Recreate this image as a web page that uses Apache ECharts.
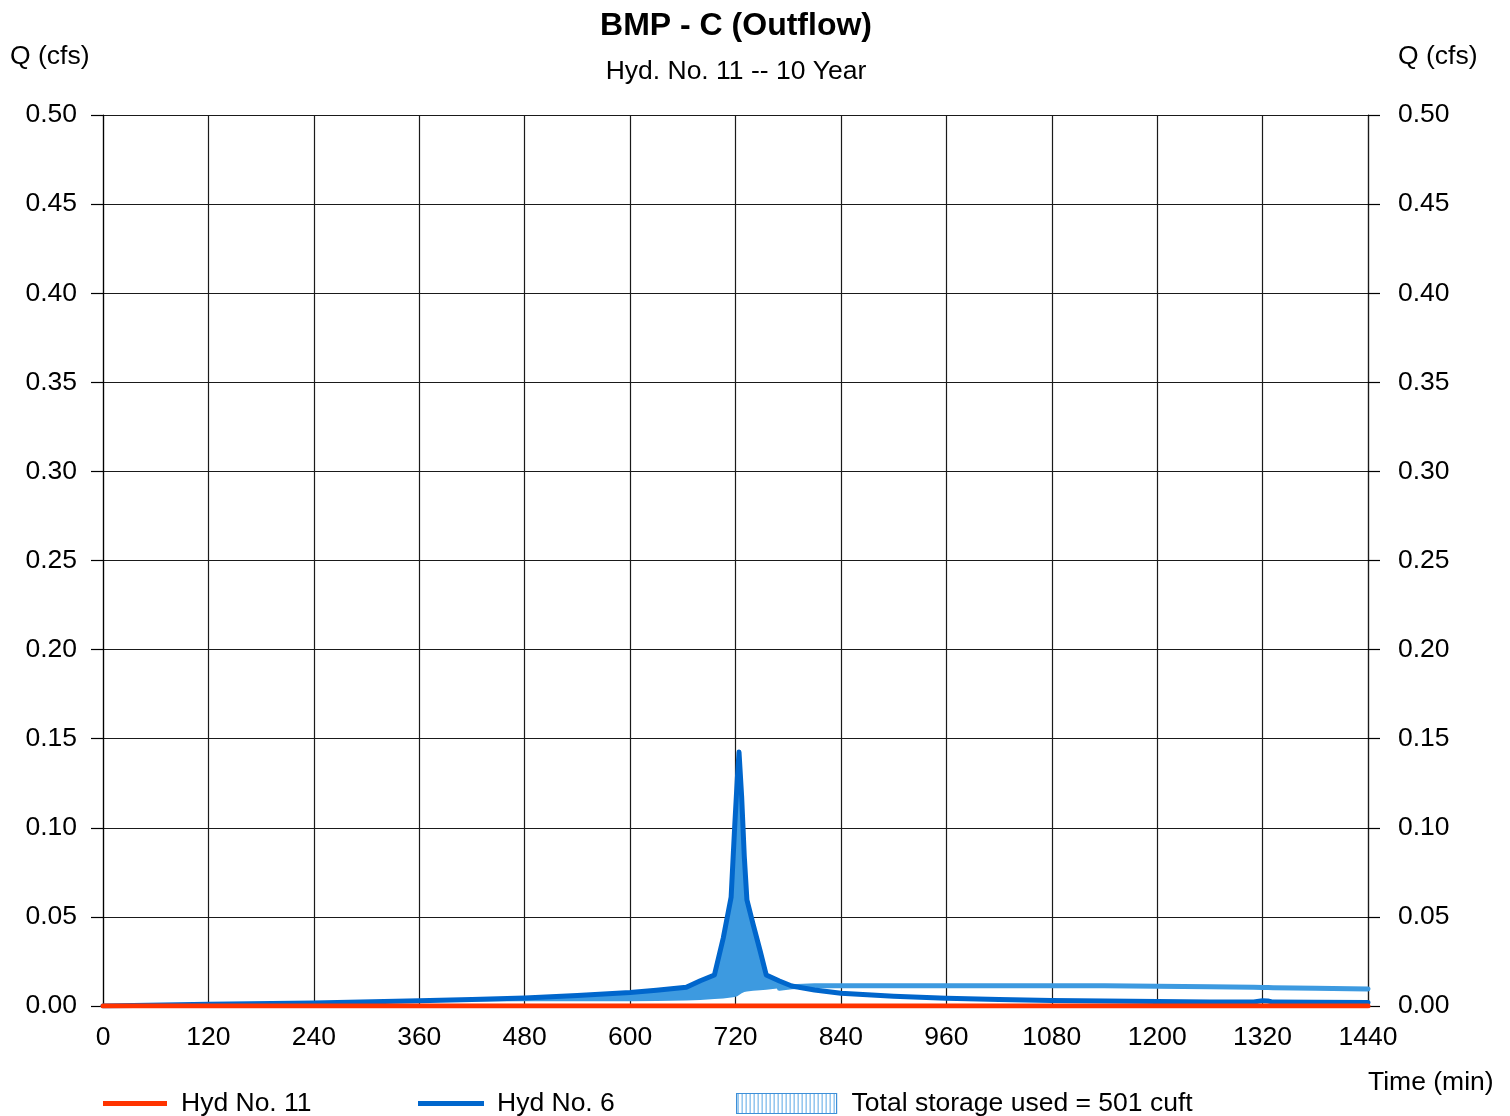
<!DOCTYPE html>
<html>
<head>
<meta charset="utf-8">
<script src="https://cdn.jsdelivr.net/npm/echarts@6/dist/echarts.min.js"></script>
<style>
html,body{margin:0;padding:0;background:#fff;}
#chart{width:1510px;height:1116px;}
</style>
</head>
<body>
<div id="chart"></div>
<script>
// ---- Data ----
var titleText = 'BMP - C (Outflow)';
var subtitleText = 'Hyd. No. 11 -- 10 Year';
var yTicks = [0, 0.05, 0.10, 0.15, 0.20, 0.25, 0.30, 0.35, 0.40, 0.45, 0.50];
var xTicks = [0, 120, 240, 360, 480, 600, 720, 840, 960, 1080, 1200, 1320, 1440];

// Hyd No. 6 (inflow)
var times = [0,120,240,360,420,480,540,600,630,664,680,696,706,715,719,722,724,727,730,733,740,748,755,770,784,810,840,900,960,1020,1080,1140,1200,1260,1310,1320,1326,1332,1380,1440];
var inflow = [0,0.0010,0.0017,0.0029,0.0036,0.0045,0.0059,0.0076,0.0089,0.0105,0.0142,0.0174,0.0380,0.0610,0.1000,0.1270,0.1425,0.1175,0.0840,0.0595,0.0460,0.0310,0.0174,0.0140,0.0112,0.0090,0.0072,0.0055,0.0044,0.0036,0.0031,0.0028,0.0025,0.0023,0.0022,0.0030,0.0028,0.0022,0.0021,0.0019];
// lower edge of the storage shading / storage line
var storageBase = [0,0.0010,0.0017,0.0024,0.0025,0.0026,0.0026,0.0026,0.0028,0.0031,0.0034,0.0039,0.0042,0.0047,0.0050,0.0055,0.0062,0.0071,0.0078,0.0081,0.0085,0.0088,0.0091,0.0100,0.0108,0.0113,0.0114,0.0114,0.0114,0.0114,0.0114,0.0113,0.0111,0.0108,0.0105,0.0104,0.0104,0.0103,0.0100,0.0095];
var storageLineFrom = 770;

// Hyd No. 11 (outflow)
var outTimes = [0, 720, 1440];
var outflow = [0, 0, 0];

var legendNames = ['Hyd No. 11', 'Hyd No. 6', 'Total storage used = 501 cuft'];

// ---- Build series data ----
var inflowData = times.map(function (t, i) { return [t, inflow[i]]; });
var storageLineData = times.map(function (t, i) { return [t, t >= storageLineFrom ? storageBase[i] : null]; });
var outData = outTimes.map(function (t, i) { return [t, outflow[i]]; });

var RED = '#ff3300', BLUE = '#0066cc', LBLUE = '#3d9ae0';
var FONT = '"Liberation Sans", Arial, Helvetica, sans-serif';
var FS = 26.5;

// hatch pattern for storage legend icon
var pc = document.createElement('canvas');
pc.width = 4; pc.height = 4;
var pctx = pc.getContext('2d');
pctx.fillStyle = '#ffffff'; pctx.fillRect(0, 0, 4, 4);
pctx.fillStyle = '#5aa8e6'; pctx.fillRect(1, 0, 1, 4);

var chart = echarts.init(document.getElementById('chart'), null, {renderer: 'canvas'});

var yAxisCommon = {
  type: 'value', min: 0, max: 0.5, interval: 0.05,
  axisLine: {show: true, lineStyle: {color: '#000', width: 1.2}},
  axisTick: {show: true, inside: false, length: 12, lineStyle: {color: '#000', width: 1.2}},
  axisLabel: {color: '#000', fontSize: FS, fontFamily: FONT, padding: [4, 0, 0, 0],
    formatter: function (v) { return v.toFixed(2); }}
};

// storage shading polygon: upper edge = inflow (or base where inflow is lower), lower edge = base
function renderStorage(params, api) {
  var pts = [];
  var i;
  for (i = 0; i < times.length; i++) {
    pts.push(api.coord([times[i], Math.max(inflow[i], storageBase[i])]));
  }
  for (i = times.length - 1; i >= 0; i--) {
    pts.push(api.coord([times[i], storageBase[i]]));
  }
  return {
    type: 'polygon',
    shape: {points: pts},
    style: {fill: LBLUE, stroke: null}
  };
}

var option = {
  backgroundColor: '#ffffff',
  animation: false,
  title: {
    text: titleText,
    subtext: subtitleText,
    left: 731, textAlign: 'center', top: 5,
    itemGap: 16,
    textStyle: {color: '#000', fontSize: 32, fontWeight: 'bold', fontFamily: FONT},
    subtextStyle: {color: '#000', fontSize: 26.5, fontFamily: FONT}
  },
  grid: {left: 103, right: 142, top: 115, bottom: 110, containLabel: false},
  xAxis: {
    type: 'value', min: 0, max: 1440, interval: 120,
    axisLine: {show: true, onZero: false, lineStyle: {color: '#000', width: 1.2}},
    axisTick: {show: false},
    axisLabel: {color: '#000', fontSize: FS, fontFamily: FONT, margin: 18,
      formatter: function (v) { return String(v); }},
    splitLine: {show: true, lineStyle: {color: '#1a1a1a', width: 1.2}}
  },
  yAxis: [
    Object.assign({}, yAxisCommon, {
      position: 'left',
      axisLabel: Object.assign({}, yAxisCommon.axisLabel, {margin: 26}),
      splitLine: {show: true, lineStyle: {color: '#1a1a1a', width: 1.2}}
    }),
    Object.assign({}, yAxisCommon, {
      position: 'right',
      axisLine: {show: true, lineStyle: {color: '#1a1a1a', width: 1.2}},
      axisLabel: Object.assign({}, yAxisCommon.axisLabel, {margin: 30}),
      splitLine: {show: false}
    })
  ],
  legend: [
    {
      data: [{name: legendNames[0], icon: 'rect'}],
      left: 103, top: 1090, padding: 0,
      itemWidth: 64, itemHeight: 5, selectedMode: false,
      textStyle: {color: '#000', fontSize: FS, fontFamily: FONT, padding: [0, 0, 0, 9]}
    },
    {
      data: [{name: legendNames[1], icon: 'rect'}],
      left: 418, top: 1090, padding: 0,
      itemWidth: 66, itemHeight: 5, selectedMode: false,
      textStyle: {color: '#000', fontSize: FS, fontFamily: FONT, padding: [0, 0, 0, 8]}
    },
    {
      data: [{name: legendNames[2], icon: 'rect',
        itemStyle: {color: {image: pc, repeat: 'repeat'}, borderColor: '#3d8fd8', borderWidth: 1.2}}],
      left: 736, top: 1090, padding: 0,
      itemWidth: 100, itemHeight: 20, selectedMode: false,
      textStyle: {color: '#000', fontSize: FS, fontFamily: FONT, padding: [0, 0, 0, 10]}
    }
  ],
  graphic: [
    {type: 'text', left: 10, top: 43, style: {text: 'Q (cfs)', fill: '#000', font: FS + 'px ' + FONT}},
    {type: 'text', left: 1398, top: 43, style: {text: 'Q (cfs)', fill: '#000', font: FS + 'px ' + FONT}},
    {type: 'text', left: 1368, top: 1069, style: {text: 'Time (min)', fill: '#000', font: FS + 'px ' + FONT}}
  ],
  series: [
    {
      name: legendNames[2], type: 'custom', renderItem: renderStorage,
      data: [[0, 0]], silent: true, clip: true,
      itemStyle: {color: LBLUE}, z: 2
    },
    {
      name: '__storageLine', type: 'line', data: storageLineData,
      showSymbol: false, silent: true, connectNulls: false,
      lineStyle: {color: LBLUE, width: 5, cap: 'round', join: 'round'}, z: 3
    },
    {
      name: legendNames[1], type: 'line', data: inflowData,
      showSymbol: false, silent: true,
      itemStyle: {color: BLUE},
      lineStyle: {color: BLUE, width: 5, cap: 'round', join: 'round'}, z: 4
    },
    {
      name: legendNames[0], type: 'line', data: outData,
      showSymbol: false, silent: true,
      itemStyle: {color: RED},
      lineStyle: {color: RED, width: 5, cap: 'round', join: 'round'}, z: 5
    }
  ]
};
chart.setOption(option);
</script>
</body>
</html>
